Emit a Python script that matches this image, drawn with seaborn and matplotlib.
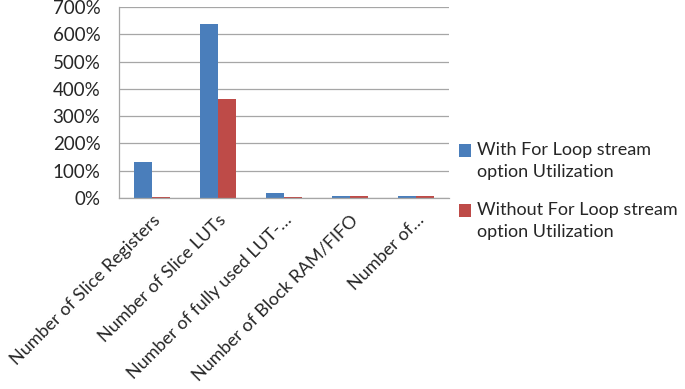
import matplotlib
matplotlib.use('Agg')
import matplotlib.pyplot as plt
import seaborn as sns
import pandas as pd
from matplotlib.patches import Patch, Rectangle
from matplotlib.legend_handler import HandlerPatch
from matplotlib.ticker import FuncFormatter

sns.set_style("white")
plt.rcParams['font.family'] = ['Lato', 'DejaVu Sans']

# data (percent utilization)
categories = [
    "Number of Slice Registers",
    "Number of Slice LUTs",
    "Number of fully used LUT-\u2026",
    "Number of Block RAM/FIFO",
    "Number of\u2026",
]
series_names = [
    "With For Loop stream\noption Utilization",
    "Without For Loop stream\noption Utilization",
]
with_loop = [132, 636, 18, 6, 6]
without_loop = [2, 364, 2, 6, 6]
colors = ["#4a7ebb", "#be4b48"]

df = pd.DataFrame({
    "category": categories * 2,
    "series": [series_names[0]] * 5 + [series_names[1]] * 5,
    "value": with_loop + without_loop,
})

fig = plt.figure(figsize=(6.85, 3.89), dpi=100)
ax = fig.add_axes([0.174, 0.491, 0.481, 0.491])

sns.barplot(data=df, x="category", y="value", hue="series", palette=colors,
            width=0.55, gap=0, saturation=1, linewidth=0, ax=ax, legend=False)

grid_col = "#a6a6a6"
txt_col = "#262626"
ax.set_ylim(0, 700)
ax.set_yticks(range(0, 701, 100))
ax.yaxis.set_major_formatter(FuncFormatter(lambda v, p: f"{int(v)}%"))
ax.yaxis.grid(True, color=grid_col, linewidth=0.9)
ax.set_axisbelow(True)
ax.set_xlim(-0.5, 4.5)
ax.set_xlabel("")
ax.set_ylabel("")

for s in ["top", "right"]:
    ax.spines[s].set_visible(False)
for s in ["left", "bottom"]:
    ax.spines[s].set_color(grid_col)
    ax.spines[s].set_linewidth(0.9)

ax.set_xticks(range(5))
ax.set_xticklabels(categories, rotation=45, ha="right", rotation_mode="anchor")
ax.set_xticks([i - 0.5 for i in range(6)], minor=True)
ax.tick_params(axis="x", which="major", length=0, pad=10, labelsize=13, colors=txt_col)
ax.tick_params(axis="x", which="minor", length=5, color=grid_col, width=0.9)
ax.tick_params(axis="y", length=4, color=grid_col, width=0.9, labelsize=13.5,
               labelcolor=txt_col, pad=9.5)


# legend square sits beside the first line of a two-line label
def top_square(legend, orig_handle, xdescent, ydescent, width, height, fontsize):
    side = 0.7 * fontsize
    return Rectangle((-xdescent, -ydescent + height - side + 0.1 * fontsize), side, side)


handles = [Patch(facecolor=c, edgecolor="none") for c in colors]
leg = fig.legend(handles, series_names, loc="upper left", bbox_to_anchor=(0.646, 0.676),
                 frameon=False, fontsize=13, handlelength=0.72, handleheight=2.3,
                 handletextpad=0.3, labelspacing=1.25, labelcolor=txt_col,
                 handler_map={Patch: HandlerPatch(patch_func=top_square)})
for t in leg.get_texts():
    t.set_linespacing(1.42)

fig.savefig("out.png", dpi=100)
